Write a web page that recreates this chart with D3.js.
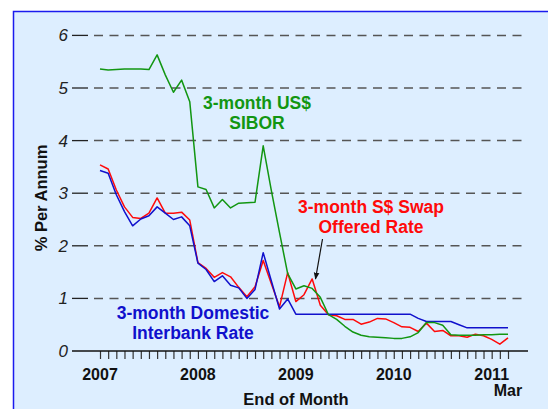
<!DOCTYPE html>
<html>
<head>
<meta charset="utf-8">
<script src="https://cdn.jsdelivr.net/npm/d3@7"></script>
<style>
  html, body { margin: 0; padding: 0; background: #ffffff; }
  svg { display: block; }
  text { font-family: Arial, "Liberation Sans", sans-serif; }
</style>
</head>
<body>
<svg id="chart" width="548" height="409"></svg>
<script>
// ---- Data (end of month, Jan 2007 .. Mar 2011) ----
const months = [
  "2007-01","2007-02","2007-03","2007-04","2007-05","2007-06","2007-07","2007-08","2007-09","2007-10","2007-11","2007-12",
  "2008-01","2008-02","2008-03","2008-04","2008-05","2008-06","2008-07","2008-08","2008-09","2008-10","2008-11","2008-12",
  "2009-01","2009-02","2009-03","2009-04","2009-05","2009-06","2009-07","2009-08","2009-09","2009-10","2009-11","2009-12",
  "2010-01","2010-02","2010-03","2010-04","2010-05","2010-06","2010-07","2010-08","2010-09","2010-10","2010-11","2010-12",
  "2011-01","2011-02","2011-03"
];
const usSibor = [
  5.36,5.34,5.35,5.36,5.36,5.36,5.35,5.63,5.25,4.92,5.15,4.74,
  3.12,3.07,2.72,2.88,2.72,2.81,2.82,2.83,3.90,3.05,2.25,1.47,
  1.18,1.24,1.19,1.02,0.69,0.60,0.47,0.36,0.30,0.27,0.26,0.25,
  0.24,0.24,0.27,0.35,0.54,0.54,0.49,0.31,0.30,0.30,0.30,0.31,
  0.31,0.32,0.32
];
const sgdSwap = [
  3.54,3.46,3.06,2.74,2.54,2.52,2.62,2.91,2.62,2.62,2.64,2.49,
  1.68,1.57,1.40,1.49,1.41,1.21,1.03,1.22,1.72,1.28,0.84,1.49,
  0.94,1.07,1.37,0.87,0.69,0.67,0.60,0.60,0.51,0.55,0.62,0.61,
  0.54,0.46,0.45,0.37,0.53,0.37,0.39,0.29,0.29,0.26,0.32,0.29,
  0.22,0.13,0.25
];
const interbank = [
  3.43,3.38,2.97,2.65,2.38,2.51,2.57,2.74,2.62,2.50,2.55,2.38,
  1.67,1.55,1.32,1.43,1.25,1.20,1.00,1.17,1.87,1.33,0.80,0.99,
  0.70,0.70,0.70,0.70,0.70,0.70,0.70,0.70,0.70,0.70,0.70,0.70,
  0.70,0.70,0.70,0.62,0.56,0.56,0.56,0.56,0.50,0.44,0.44,0.44,
  0.44,0.44,0.44
];
const yTicks = [0,1,2,3,4,5,6];
const yearLabels = [
  {month:"2007-01", label:"2007"},
  {month:"2008-01", label:"2008"},
  {month:"2009-01", label:"2009"},
  {month:"2010-01", label:"2010"},
  {month:"2011-01", label:"2011"}
];
const lastLabel = {month:"2011-03", label:"Mar"};

// ---- Layout ----
const svg = d3.select("#chart");
svg.append("rect").attr("x",13.5).attr("y",11.5).attr("width",560).attr("height",420)
  .attr("fill","#ddeeff").attr("stroke","#1a1aee").attr("stroke-width",1.5);

const x = d3.scalePoint().domain(months).range([100,508]).padding(0);
const y = d3.scaleLinear().domain([0,6]).range([351,35.4]);

const axisLeft = 72, axisRight = 528, dashStart = 88;

// Gridlines
const grid = svg.append("g");
yTicks.forEach(t => {
  if (t === 0) return;
  grid.append("line").attr("x1",axisLeft).attr("x2",dashStart).attr("y1",y(t)).attr("y2",y(t))
    .attr("stroke","#222").attr("stroke-width",1.3);
  grid.append("line").attr("x1",dashStart+6).attr("x2",axisRight).attr("y1",y(t)).attr("y2",y(t))
    .attr("stroke","#555").attr("stroke-width",1.5).attr("stroke-dasharray","9,6.5");
});
// y tick labels
svg.append("g").selectAll("text").data(yTicks).join("text")
  .attr("x",68).attr("y",d=>y(d)+6).attr("text-anchor","end")
  .attr("font-size",17).attr("font-style","italic").attr("fill","#222")
  .text(d=>d);

// x axis
const xAxis = d3.axisBottom(x).tickSize(8).tickFormat("");
const gx = svg.append("g").attr("transform",`translate(0,${y(0)})`).call(xAxis);
gx.select(".domain").remove();
gx.selectAll(".tick line").attr("stroke","#333").attr("stroke-width",1.2);
svg.append("line").attr("x1",axisLeft).attr("x2",axisRight).attr("y1",y(0)).attr("y2",y(0))
  .attr("stroke","#111").attr("stroke-width",1.5);

svg.append("g").selectAll("text").data(yearLabels).join("text")
  .attr("x",d=>x(d.month)).attr("y",380).attr("text-anchor","middle")
  .attr("font-size",16).attr("font-weight","bold").attr("fill","#111").text(d=>d.label);
svg.append("text").attr("x",x(lastLabel.month)).attr("y",396).attr("text-anchor","middle")
  .attr("font-size",16).attr("font-weight","bold").attr("fill","#111").text(lastLabel.label);

svg.append("text").attr("x",296).attr("y",405).attr("text-anchor","middle")
  .attr("font-size",16.5).attr("font-weight","bold").attr("fill","#111").text("End of Month");
svg.append("text").attr("transform","translate(47,198) rotate(-90)").attr("text-anchor","middle")
  .attr("font-size",16.5).attr("font-weight","bold").attr("fill","#111").text("% Per Annum");

// Lines
const line = vals => d3.line().x((d,i)=>x(months[i])).y(d=>y(d))(vals);
const series = [
  {vals: sgdSwap, color:"#ff0a0a"},
  {vals: interbank, color:"#1010cc"},
  {vals: usSibor, color:"#129612"}
];
series.forEach(s => {
  svg.append("path").attr("d",line(s.vals)).attr("fill","none")
    .attr("stroke",s.color).attr("stroke-width",1.5).attr("stroke-linejoin","round");
});

// Annotations
function label(lines, cx, y0, color) {
  lines.forEach((t,i) => {
    svg.append("text").attr("x",cx).attr("y",y0 + i*20).attr("text-anchor","middle")
      .attr("font-size",17.5).attr("font-weight","bold").attr("fill",color).text(t);
  });
}
label(["3-month US$","SIBOR"], 257, 108.5, "#129612");
label(["3-month S$ Swap","Offered Rate"], 371, 213, "#ff0a0a");
label(["3-month Domestic","Interbank Rate"], 193, 318.5, "#1010cc");

// Arrow
svg.append("defs").append("marker").attr("id","arr").attr("viewBox","0 0 10 10")
  .attr("refX",9).attr("refY",5).attr("markerWidth",7).attr("markerHeight",7)
  .attr("orient","auto").attr("markerUnits","userSpaceOnUse")
  .append("path").attr("d","M0,1 L10,5 L0,9 Z").attr("fill","#111");
svg.append("line").attr("x1",322.5).attr("y1",239).attr("x2",315.5).attr("y2",279)
  .attr("stroke","#111").attr("stroke-width",1.2).attr("marker-end","url(#arr)");
</script>
</body>
</html>
